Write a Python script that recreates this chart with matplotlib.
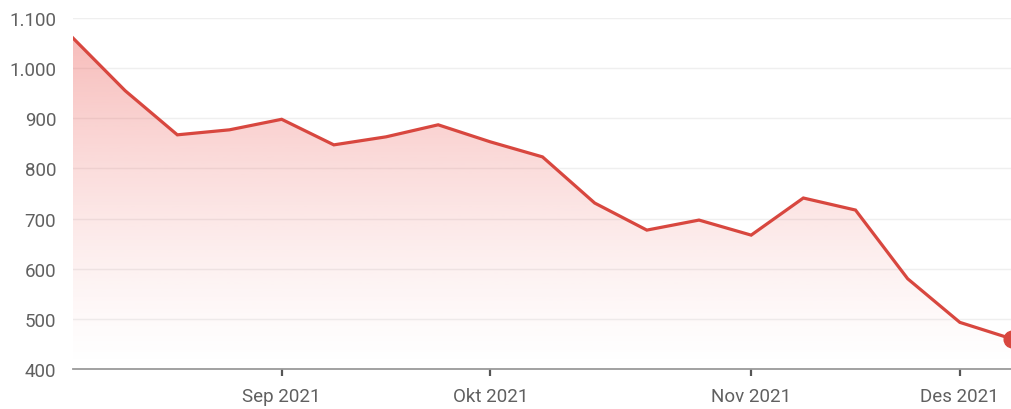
import matplotlib.pyplot as plt
import numpy as np
from matplotlib.patches import Polygon

plt.rcParams['font.family'] = ['Roboto', 'DejaVu Sans']

# weekly observations
dates = ['2021-08-06', '2021-08-13', '2021-08-20', '2021-08-27',
         '2021-09-03', '2021-09-10', '2021-09-17', '2021-09-24',
         '2021-10-01', '2021-10-08', '2021-10-15', '2021-10-22', '2021-10-29',
         '2021-11-05', '2021-11-12', '2021-11-19', '2021-11-26',
         '2021-12-03', '2021-12-10']
values = [1060, 955, 867, 877, 898, 847, 863, 887, 853, 823,
          731, 677, 697, 667, 741, 717, 580, 493, 460]
month_names = {'08': 'Agu', '09': 'Sep', '10': 'Okt', '11': 'Nov', '12': 'Des'}
y_ticks = [400, 500, 600, 700, 800, 900, 1000, 1100]

red = '#d8473f'

fig = plt.figure(figsize=(10.12, 4.10), dpi=100)
ax = fig.add_axes([73 / 1012, 1 - 370 / 410, 1 - 73 / 1012, (370 - 19) / 410])
ax.set_axisbelow(True)

x = np.arange(len(values))
ax.set_xlim(0, len(values) - 1)
ax.set_ylim(y_ticks[0], y_ticks[-1])

# gradient fill under the line
grad = np.linspace(0, 1, 256).reshape(-1, 1)
rgba = np.zeros((256, 1, 4))
rgba[:, :, :3] = np.array([236, 90, 85]) / 255
rgba[:, :, 3] = 0.4 * grad ** 1.3
img = ax.imshow(rgba, extent=[0, len(values) - 1, y_ticks[0], max(values)],
                origin='lower', aspect='auto', zorder=1)
poly = Polygon(np.column_stack([np.r_[x, x[-1], x[0]],
                                np.r_[values, y_ticks[0], y_ticks[0]]]),
               closed=True, transform=ax.transData)
img.set_clip_path(poly)

ax.plot(x, values, color=red, lw=2.3, zorder=3, solid_joinstyle='miter')
ax.plot(x[-1], values[-1], 'o', color=red, ms=12, clip_on=False, zorder=4)

# month ticks at first week of each month
tick_pos, tick_lab = [], []
for i in range(1, len(dates)):
    if dates[i][5:7] != dates[i - 1][5:7]:
        tick_pos.append(i)
        tick_lab.append(month_names[dates[i][5:7]] + ' ' + dates[i][:4])
ax.set_xticks(tick_pos)
ax.set_xticklabels(tick_lab)

ax.set_yticks(y_ticks)
ax.set_yticklabels([f'{v:,}'.replace(',', '.') for v in y_ticks])
ax.grid(axis='y', color='#efefef', lw=1)

for s in ['top', 'right', 'left']:
    ax.spines[s].set_visible(False)
ax.spines['bottom'].set_color('#9a9a9a')
ax.spines['bottom'].set_linewidth(1.3)
ax.spines['bottom'].set_zorder(5)

ax.tick_params(axis='x', length=5, width=1.6, color='#555555', pad=8,
               labelsize=13.5, labelcolor='#606060')
ax.tick_params(axis='y', length=0, pad=12, labelsize=13.5, labelcolor='#606060')

fig.savefig('out.png', dpi=100)
